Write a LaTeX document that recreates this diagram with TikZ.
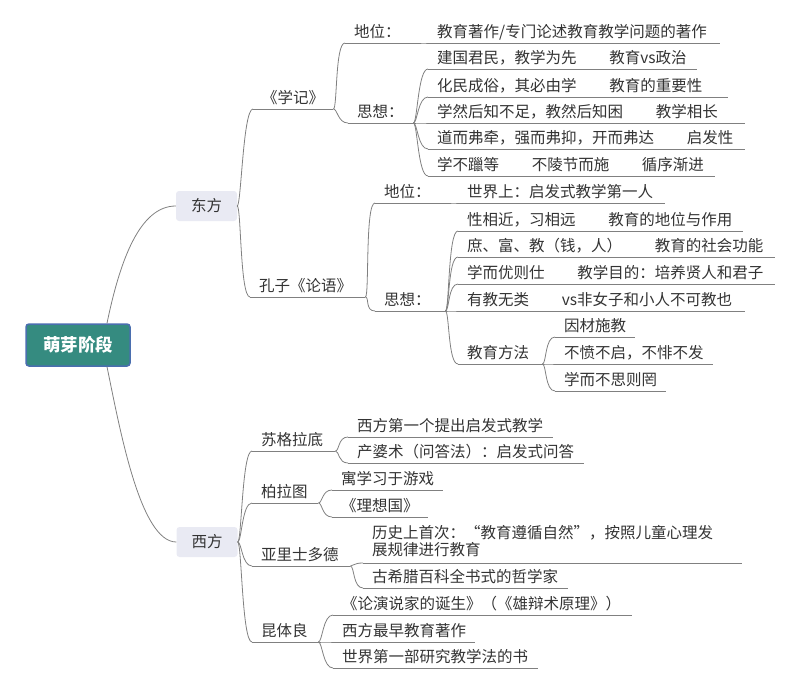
\documentclass[tikz,border=0pt]{standalone}
\usepackage{fontspec}
\setmainfont{Noto Sans CJK SC}
\usepackage{xcolor}
\definecolor{rootteal}{RGB}{53, 139, 128}
\definecolor{rootblue}{RGB}{74, 110, 175}
\definecolor{mainfill}{RGB}{233, 234, 243}
\definecolor{linegray}{RGB}{128, 128, 128}
\definecolor{textgray}{RGB}{51, 51, 51}
\newcommand{\gap}{\kern2.1em}

\begin{document}
\begin{tikzpicture}[x=1pt, y=-1pt,
    every node/.style={font=\fontsize{15.5}{17}\selectfont, text=textgray},
    uline/.style={draw=linegray, line width=0.8pt},
    branch/.style={draw=linegray, line width=0.8pt},
    link/.style={branch, to path={.. controls +(4,0) and +(-10,0) .. (\tikztotarget)}},
    topic/.style={anchor=south west, inner xsep=9pt, inner ysep=0pt, text height=11pt, text depth=5pt, align=left, text width=#1,
        append after command={(\tikzlastnode.south west) edge[uline] (\tikzlastnode.south east)}},
    mainbox/.style={fill=mainfill, rounded corners=3pt, minimum width=61pt, minimum height=30pt, inner sep=0pt},
    rootbox/.style={fill=rootteal, draw=rootblue, line width=1.5pt, rounded corners=3pt, minimum width=104pt, minimum height=42pt, inner sep=0pt, text=white, font=\fontsize{17.5}{20}\selectfont\bfseries}]
\useasboundingbox (0,0) rectangle (800,690);

% Root and main topics
\node[rootbox] (root) at (78,345) {萌芽阶段};
\node[mainbox] (dong) at (206.5,206) {东方};
\node[mainbox] (xi) at (207,542) {西方};

% 东方: 《学记》
\node[topic=62pt] (xj) at (253,109) {《学记》};
\node[topic=57pt] (xjdw) at (345,43) {地位：};
\node[topic=274pt] (xjdwc) at (428,43) {教育著作/专门论述教育教学问题的著作};
\node[topic=47pt] (xjsx) at (348,123) {思想：};
\node[topic=251pt] (c1) at (428,69) {建国君民，教学为先\gap 教育vs政治};
\node[topic=282pt] (c2) at (428,97) {化民成俗，其必由学\gap 教育的重要性};
\node[topic=299pt] (c3) at (428,123) {学然后知不足，教然后知困\gap 教学相长};
\node[topic=299pt] (c4) at (428,149) {道而弗牵，强而弗抑，开而弗达\gap 启发性};
\node[topic=269pt] (c5) at (428,176) {学不躐等\gap 不陵节而施\gap 循序渐进};

% 东方: 孔子《论语》
\node[topic=97pt] (kz) at (250,297) {孔子《论语》};
\node[topic=57pt] (kzdw) at (375,203) {地位：};
\node[topic=189pt] (kzdwc) at (458,203) {世界上：启发式教学第一人};
\node[topic=52pt] (kzsx) at (375,311) {思想：};
\node[topic=267pt] (k1) at (458,231) {性相近，习相远\gap 教育的地位与作用};
\node[topic=299pt] (k2) at (458,257) {庶、富、教（钱，人）\gap 教育的社会功能};
\node[topic=299pt] (k3) at (458,284) {学而优则仕\gap 教学目的：培养贤人和君子};
\node[topic=269pt] (k4) at (458,311) {有教无类\gap vs非女子和小人不可教也};
\node[topic=66pt] (k5) at (458,364) {教育方法};
\node[topic=62pt] (m1) at (555,337) {因材施教};
\node[topic=140pt] (m2) at (555,364) {不愤不启，不悱不发};
\node[topic=93pt] (m3) at (555,391) {学而不思则罔};

% 西方
\node[topic=65pt] (sg) at (252,451) {苏格拉底};
\node[topic=187pt] (s1) at (348,437) {西方第一个提出启发式教学};
\node[topic=218pt] (s2) at (348,463) {产婆术（问答法）：启发式问答};
\node[topic=48pt] (bl) at (252,503) {柏拉图};
\node[topic=93pt] (b1) at (332,490) {寓学习于游戏};
\node[topic=78pt] (b2) at (332,517) {《理想国》};
\node[topic=80pt] (ys) at (252,566) {亚里士多德};
\node[topic=361pt, text depth=24pt] (y1) at (363,563) {历史上首次：“教育遵循自然”，按照儿童心理发\\展规律进行教育};
\node[topic=187pt] (y2) at (363,588) {古希腊百科全书式的哲学家};
\node[topic=48pt] (ktl) at (252,642) {昆体良};
\node[topic=281pt] (q1) at (333,615) {《论演说家的诞生》（《雄辩术原理》）};
\node[topic=124pt] (q2) at (333,642) {西方最早教育著作};
\node[topic=187pt] (q3) at (333,668) {世界第一部研究教学法的书};

% Connectors
\draw[branch] ([xshift=29pt]root.north) .. controls +(13,-63) and +(-36,0) .. (dong.west);
\draw[branch] ([xshift=29pt]root.south) .. controls +(13,63) and +(-36,0) .. (xi.west);
\foreach \c in {xj,kz} \draw[link] (dong.east) to (\c.south west);
\foreach \c in {sg,bl,ys,ktl} \draw[link] (xi.east) to (\c.south west);
\foreach \c in {xjdw,xjsx} \draw[link] (xj.south east) to (\c.south west);
\draw[link] (xjdw.south east) to (xjdwc.south west);
\foreach \c in {c1,c2,c3,c4,c5} \draw[link] (xjsx.south east) to (\c.south west);
\foreach \c in {kzdw,kzsx} \draw[link] (kz.south east) to (\c.south west);
\draw[link] (kzdw.south east) to (kzdwc.south west);
\foreach \c in {k1,k2,k3,k4,k5} \draw[link] (kzsx.south east) to (\c.south west);
\foreach \c in {m1,m2,m3} \draw[link] (k5.south east) to (\c.south west);
\foreach \c in {s1,s2} \draw[link] (sg.south east) to (\c.south west);
\foreach \c in {b1,b2} \draw[link] (bl.south east) to (\c.south west);
\foreach \c in {y1,y2} \draw[link] (ys.south east) to (\c.south west);
\foreach \c in {q1,q2,q3} \draw[link] (ktl.south east) to (\c.south west);
\end{tikzpicture}
\end{document}
